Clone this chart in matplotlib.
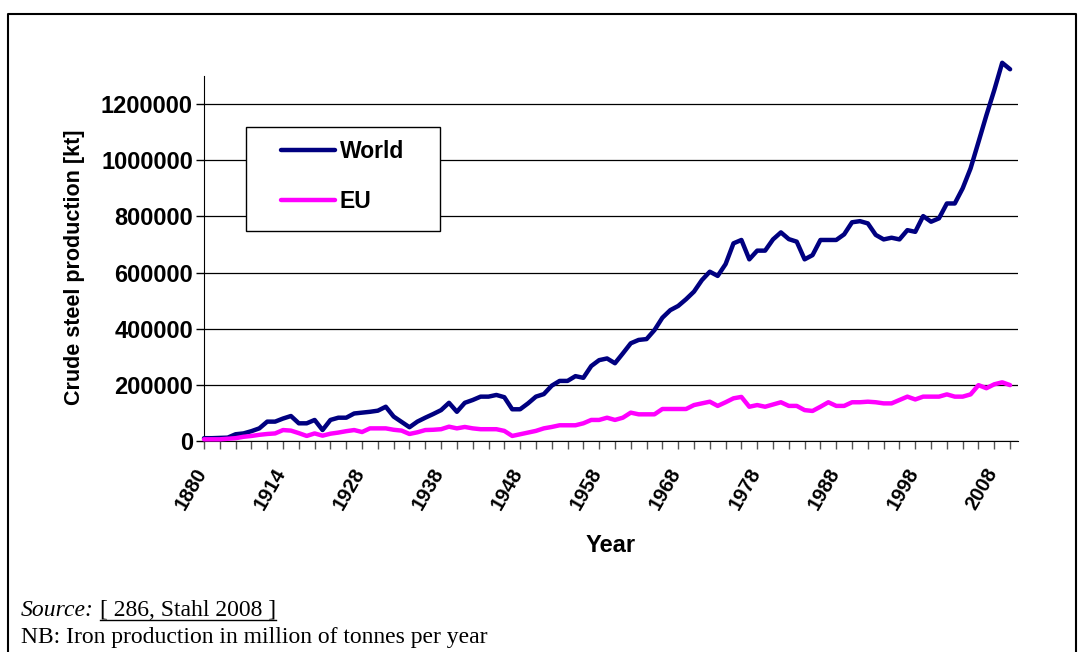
import matplotlib
matplotlib.use("Agg")
import matplotlib.pyplot as plt
from matplotlib.patches import Rectangle
from matplotlib.lines import Line2D
import numpy as np

# ---- data (kt) ----
world = [10000, 10000, 11000, 12000, 24000, 27000, 35000, 45000, 69000, 69000,
         80000, 89000, 63000, 63000, 75000, 39000, 75000, 83000, 83000, 98000,
         101000, 104000, 108000, 122000, 87000, 68000, 49000, 69000, 83000, 96000,
         110000, 136000, 104000, 136000, 146000, 158000, 158000, 164000, 156000, 113000,
         113000, 134000, 158000, 167000, 197000, 214000, 214000, 231000, 225000, 267000,
         288000, 294000, 277000, 312000, 348000, 360000, 363000, 395000, 439000, 466000,
         481000, 505000, 532000, 573000, 603000, 588000, 630000, 704000, 716000, 647000,
         678000, 678000, 718000, 743000, 719000, 710000, 647000, 662000, 716000, 716000,
         716000, 736000, 779000, 783000, 775000, 734000, 718000, 724000, 718000, 751000,
         745000, 801000, 781000, 793000, 846000, 846000, 900000, 971000, 1065000, 1160000,
         1250000, 1347000, 1324000]
eu = [6000, 6000, 6000, 8000, 10000, 15000, 18000, 22000, 25000, 27000,
      39000, 37000, 28000, 18000, 27000, 19000, 26000, 30000, 35000, 39000,
      32000, 45000, 45000, 45000, 40000, 37000, 25000, 31000, 39000, 40000,
      42000, 51000, 45000, 50000, 45000, 42000, 42000, 42000, 36000, 18000,
      24000, 30000, 36000, 45000, 50000, 56000, 56000, 56000, 63000, 75000,
      75000, 83000, 75000, 83000, 101000, 95000, 95000, 95000, 114000, 114000,
      114000, 114000, 128000, 134000, 140000, 125000, 138000, 152000, 157000, 122000,
      128000, 122000, 130000, 138000, 125000, 125000, 110000, 107000, 122000, 138000,
      125000, 125000, 138000, 138000, 140000, 138000, 134000, 134000, 146000, 158000,
      148000, 158000, 158000, 158000, 166000, 158000, 158000, 166000, 199000, 188000,
      202000, 209000, 199000]
n_categories = 104
label_positions = [0, 10, 20, 30, 40, 50, 60, 70, 80, 90, 100]
year_labels = ["1880", "1914", "1928", "1938", "1948", "1958", "1968",
               "1978", "1988", "1998", "2008"]
y_ticks = [0, 200000, 400000, 600000, 800000, 1000000, 1200000]

W, H = 1084, 652
fig = plt.figure(figsize=(W / 100, H / 100), dpi=100)
plt.rcParams['font.family'] = ['Liberation Sans', 'DejaVu Sans']

ax = fig.add_axes([204 / W, 1 - 441 / H, (1018 - 204) / W, (441 - 76) / H])
ax.plot(np.arange(len(world)), world, color='#000080', lw=3.2, solid_joinstyle='round',
        solid_capstyle='round', label='World', zorder=4, clip_on=False)
ax.plot(np.arange(len(eu)), eu, color='#FF00FF', lw=3.2, solid_joinstyle='round',
        solid_capstyle='round', label='EU', zorder=4, clip_on=False)

ax.set_xlim(0, n_categories - 1)
ax.set_ylim(0, 1300000)
ax.set_yticks(y_ticks)
ax.set_yticklabels([str(v) for v in y_ticks], fontsize=17, fontweight='bold')
ax.set_xticks(np.arange(0, n_categories - 1, 2))
ax.set_xticklabels([])
for p, lab in zip(label_positions, year_labels):
    ax.text(p - 1.2, -0.066, lab, transform=ax.get_xaxis_transform(), rotation=60,
            ha='right', va='top', rotation_mode='anchor', fontsize=14.5,
            fontweight='bold')

ax.grid(axis='y', color='black', lw=0.9)
ax.set_axisbelow(True)
for s in ['top', 'right']:
    ax.spines[s].set_visible(False)
ax.spines['left'].set_color('black')
ax.spines['bottom'].set_color('black')
ax.tick_params(axis='x', direction='out', length=6, width=1, color='#555555')
ax.tick_params(axis='y', direction='out', length=6, width=1, color='black', pad=2)

fig.text(75 / W, 1 - 267.5 / H, 'Crude steel production [kt]', rotation=90,
         ha='center', va='center', fontsize=15.5, fontweight='bold')
fig.text(611 / W, 1 - 545 / H, 'Year', ha='center', va='center', fontsize=17,
         fontweight='bold')

# legend box
rect = Rectangle((246 / W, 1 - 231 / H), (440 - 246) / W, (231 - 127) / H,
                 transform=fig.transFigure, facecolor='white', edgecolor='black',
                 lw=1, zorder=4.5, clip_on=False)
ax.add_patch(rect)
leg = ax.legend(loc='center', bbox_to_anchor=(342.5 / W, 1 - 176.5 / H),
                bbox_transform=fig.transFigure, frameon=False,
                prop={'size': 16.5, 'weight': 'bold'}, handlelength=2.35,
                handletextpad=0.2, labelspacing=1.15)
leg.set_zorder(6)

# outer border
fig.add_artist(Line2D([8 / W, 8 / W, 1076 / W, 1076 / W], [-0.01, 1 - 14 / H, 1 - 14 / H, -0.01],
                      transform=fig.transFigure, color='black', lw=1.5))

# source text
fig.canvas.draw()
r = fig.canvas.get_renderer()
t1 = fig.text(21 / W, 1 - 611 / H, 'Source:', family='Liberation Serif',
              style='italic', fontsize=17, va='center', ha='left')
bb = t1.get_window_extent(r)
t2 = fig.text((bb.x1 + 6) / W, 1 - 611 / H, '[ 286, Stahl 2008 ]',
              family='Liberation Serif', fontsize=17, va='center', ha='left')
bb2 = t2.get_window_extent(r)
fig.add_artist(Line2D([bb2.x0 / W, bb2.x1 / W], [(bb2.y0 + 1.5) / H, (bb2.y0 + 1.5) / H],
                      transform=fig.transFigure, color='black', lw=1))
fig.text(21 / W, 1 - 637 / H, 'NB: Iron production in million of tonnes per year',
         family='Liberation Serif', fontsize=17, va='center', ha='left')

fig.savefig('out.png', dpi=100)
